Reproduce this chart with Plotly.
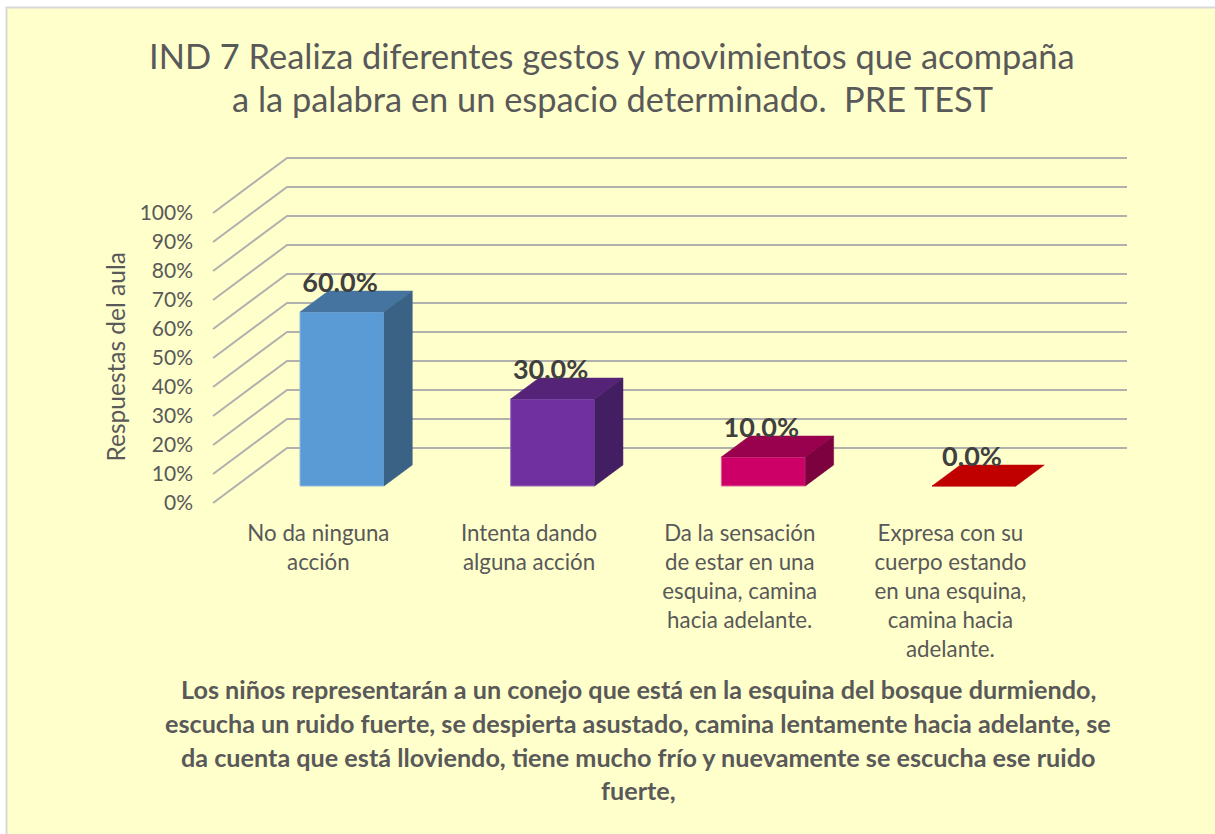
import plotly.graph_objects as go

categories = ["No da ninguna<br>acción", "Intenta dando<br>alguna acción",
              "Da la sensación<br>de estar en una<br>esquina, camina<br>hacia adelante.",
              "Expresa con su<br>cuerpo estando<br>en una esquina,<br>camina hacia<br>adelante."]
values = [60, 30, 10, 0]
labels = ["60.0%", "30.0%", "10.0%", "0.0%"]
front_colors = ["#5B9BD5", "#7030A0", "#CC0066", "#C00000"]
top_colors = ["#4674A0", "#552479", "#99004D", "#C00000"]
side_colors = ["#3A6285", "#441E63", "#7D003F", "#C00000"]
edge_colors = ["#8DB9E2", "#9A6DBD", "#E0669F", "#E06666"]
tick_vals = list(range(0, 101, 10))
tick_text = [f"{v}%" for v in tick_vals]
title_lines = ["IND 7 Realiza diferentes gestos y movimientos que acompaña",
               "a la palabra en un espacio determinado.  PRE TEST"]
caption_lines = ["Los niños representarán a un conejo que está en la esquina del bosque durmiendo,",
                 "escucha un ruido fuerte, se despierta asustado, camina lentamente hacia adelante, se",
                 "da cuenta que está lloviendo, tiene mucho frío y nuevamente se escucha ese ruido",
                 "fuerte,"]

W, H = 1215, 834
FONT = "Lato"
TEXT = "#595959"
PX_PER_PCT = 2.9
PX_PER_CAT = 210.67
X0_PX, Y0_PX = 318.4, 503      # pixel of category 0 / value 0 on the front plane
L, R, T, B = 205, 1135, 150, 510   # plot rectangle in pixels

xr = [(L - X0_PX) / PX_PER_CAT, (R - X0_PX) / PX_PER_CAT]
yr = [(Y0_PX - B) / PX_PER_PCT, (Y0_PX - T) / PX_PER_PCT]

# oblique depth offsets (px -> data units)
def dx(px): return px / PX_PER_CAT
def dy(px): return px / PX_PER_PCT

WALL_DX, WALL_DY = dx(74), dy(55)
BAR_DX, BAR_DY = dx(23.6), dy(17)
DEPTH_DX, DEPTH_DY = dx(28.3), dy(21)
HALF = dx(42)
LEFT_X, RIGHT_X = -0.5, (1127 - X0_PX) / PX_PER_CAT

fig = go.Figure()

# walls' gridlines, on the base axes so that the bars cover them
for v in tick_vals:
    fig.add_trace(go.Scatter(
        x=[LEFT_X, LEFT_X + WALL_DX, RIGHT_X],
        y=[v, v + WALL_DY, v + WALL_DY],
        mode="lines", line=dict(color="#B0B0AC", width=2),
        hoverinfo="skip", showlegend=False))

# bars on overlaying axes: front face through a bar trace, top and side from the same values
xs = [i + BAR_DX for i in range(len(values))]
fig.add_trace(go.Bar(
    x=xs, y=values, base=BAR_DY, width=2 * HALF, xaxis="x2", yaxis="y2",
    marker=dict(color=front_colors, line=dict(color=edge_colors, width=1)),
    hoverinfo="skip", showlegend=False))

for i, v in enumerate(values):
    xl, xh = xs[i] - HALF, xs[i] + HALF
    yb, yt = BAR_DY, BAR_DY + v
    fig.add_trace(go.Scatter(
        x=[xl, xh, xh + DEPTH_DX, xl + DEPTH_DX, xl],
        y=[yt, yt, yt + DEPTH_DY, yt + DEPTH_DY, yt],
        xaxis="x2", yaxis="y2",
        fill="toself", fillcolor=top_colors[i], mode="lines",
        line=dict(color=top_colors[i], width=0.5), hoverinfo="skip", showlegend=False))
    if v > 0:
        fig.add_trace(go.Scatter(
            x=[xh, xh + DEPTH_DX, xh + DEPTH_DX, xh, xh],
            y=[yb, yb + DEPTH_DY, yt + DEPTH_DY, yt, yb],
            xaxis="x2", yaxis="y2",
            fill="toself", fillcolor=side_colors[i], mode="lines",
            line=dict(color=side_colors[i], width=0.5), hoverinfo="skip", showlegend=False))

# data labels
fig.add_trace(go.Scatter(
    x=[x - dx(2) for x in xs], y=[BAR_DY + v + dy(26.5) for v in values], xaxis="x2", yaxis="y2",
    text=labels, mode="text", textposition="middle center",
    textfont=dict(family=FONT, size=27, color="#404040", weight="bold"),
    hoverinfo="skip", showlegend=False))

annotations = [dict(
    text="Respuestas del aula", textangle=-90, xref="paper", yref="paper",
    x=(115 - L) / (R - L), y=(B - 357.5) / (B - T), xanchor="center", yanchor="middle",
    showarrow=False, font=dict(family=FONT, size=24.5, color=TEXT))]
for line, yp in zip(title_lines, [55, 98]):
    annotations.append(dict(
        text=line, xref="paper", yref="paper",
        x=(612 - L) / (R - L), y=(B - yp) / (B - T), xanchor="center", yanchor="middle",
        showarrow=False, font=dict(family=FONT, size=34.4, color=TEXT)))
for line, yp in zip(caption_lines, [689, 723, 757, 790]):
    annotations.append(dict(
        text=line, xref="paper", yref="paper",
        x=(638 - L) / (R - L), y=(B - yp) / (B - T), xanchor="center", yanchor="middle",
        showarrow=False, font=dict(family=FONT, size=25.2, color=TEXT, weight="bold")))

fig.update_layout(
    width=W, height=H, autosize=False,
    margin=dict(l=L, r=W - R, t=T, b=H - B, pad=0),
    paper_bgcolor="white", plot_bgcolor="rgba(0,0,0,0)",
    showlegend=False, annotations=annotations,
    shapes=[dict(type="rect", xref="paper", yref="paper", layer="below",
                 x0=(6.5 - L) / (R - L), x1=(W + 10 - L) / (R - L),
                 y0=(B - H - 10) / (B - T), y1=(B - 7.5) / (B - T),
                 fillcolor="#FFFFCC", line=dict(color="#D9D9D9", width=2))],
    xaxis=dict(range=xr, tickmode="array", tickvals=list(range(len(categories))),
               ticktext=categories, showgrid=False, zeroline=False, showline=False,
               ticks="", ticklabelstandoff=8, automargin=False, tickangle=0,
               tickfont=dict(family=FONT, size=22.3, color=TEXT)),
    yaxis=dict(range=yr, tickmode="array", tickvals=tick_vals, ticktext=tick_text,
               showgrid=False, zeroline=False, showline=False, ticks="",
               ticklabelstandoff=11, automargin=False,
               tickfont=dict(family=FONT, size=21, color=TEXT)),
    xaxis2=dict(range=xr, overlaying="x", visible=False),
    yaxis2=dict(range=yr, overlaying="y", visible=False),
)

fig.write_html("out.html", config=dict(displayModeBar=False),
               post_script="document.body.style.margin='0';document.body.style.overflow='hidden';")
